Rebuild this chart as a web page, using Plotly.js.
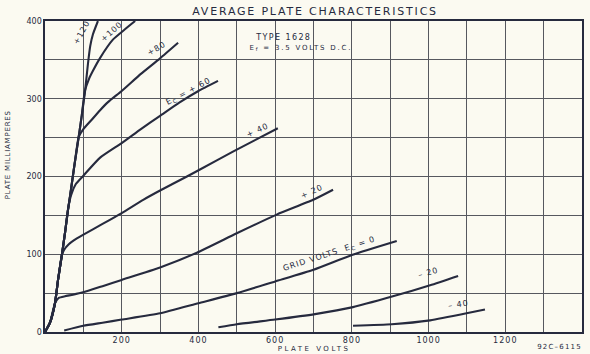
<!DOCTYPE html>
<html>
<head>
<meta charset="utf-8">
<script src="https://cdn.plot.ly/plotly-3.0.1.min.js"></script>
<style>
html,body{margin:0;padding:0;background:#fbfaf1;}
#chart{width:590px;height:354px;}
.gtitle{letter-spacing:1.8px;}
.annotation-text{letter-spacing:1px;}
.annotation[data-index="9"] .annotation-text{letter-spacing:1.4px;}
.annotation[data-index="10"] .annotation-text{letter-spacing:1.8px;}
.annotation[data-index="11"] .annotation-text{letter-spacing:2.5px;}
.annotation[data-index="12"] .annotation-text{letter-spacing:1.2px;}
.annotation[data-index="13"] .annotation-text{letter-spacing:0.8px;}
.xtick text{letter-spacing:1px;}
</style>
</head>
<body>
<div id="chart"></div>
<script>
// Plate volts / plate milliamperes, one pair of arrays per grid voltage
const ec120V = [0, 13, 26, 34, 44, 52, 60, 66, 76, 87, 96, 104, 112, 118, 125, 138];
const ec120I = [0, 12, 37, 67, 99, 127, 157, 177, 212, 248, 279, 308, 345, 368, 383, 400];

const ec100V = [0, 13, 26, 34, 44, 52, 60, 66, 76, 87, 96, 104, 115, 125, 143, 177, 210, 235];
const ec100I = [0, 12, 37, 67, 99, 127, 157, 177, 212, 248, 279, 310, 326, 336, 352, 376, 390, 400];

const ec80V = [0, 13, 26, 34, 44, 52, 60, 66, 76, 88, 100, 120, 143, 165, 200, 250, 300, 347];
const ec80I = [0, 12, 37, 67, 99, 127, 157, 177, 212, 251, 261, 272, 285, 296, 310, 332, 352, 372];

const ec60V = [0, 13, 26, 34, 44, 52, 60, 68, 80, 100, 143, 200, 250, 300, 350, 400, 451];
const ec60I = [0, 12, 37, 67, 99, 127, 158, 176, 190, 201, 224, 243, 261, 278, 295, 310, 323];

const ec40V = [0, 13, 26, 34, 44, 50, 62, 75, 99, 150, 200, 256, 300, 370, 404, 490, 607];
const ec40I = [0, 12, 37, 67, 99, 106, 113, 118, 125, 139, 153, 170, 182, 200, 209, 232, 262];

const ec20V = [0, 13, 22, 28, 36, 52, 73, 99, 150, 200, 300, 396, 500, 604, 699, 751];
const ec20I = [0, 12, 30, 39, 44, 46, 48, 51, 59, 67, 83, 102, 127, 151, 170, 183];

const ec0V = [50, 100, 150, 200, 300, 400, 500, 600, 700, 800, 917];
const ec0I = [2, 8, 12, 16, 24, 37, 50, 65, 80, 99, 117];

const ecm20V = [452, 500, 600, 704, 803, 907, 1004, 1077];
const ecm20I = [6, 10, 16, 23, 32, 46, 60, 72];

const ecm40V = [803, 904, 1004, 1099, 1147];
const ecm40I = [8, 10, 15, 24, 29];

// Axis ticks
const xTickVals = [200, 400, 600, 800, 1000, 1200];
const xTickText = ['200', '400', '600', '800', '1000', '1200'];
const yTickVals = [0, 100, 200, 300, 400];
const yTickText = ['0', '100', '200', '300', '400'];

// Curve labels
const curveLabels = ['+120', '+100', '+80', 'E<sub>C</sub> = + 60', '+ 40', '+ 20', 'GRID VOLTS  E<sub>C</sub> = 0', '\u2013 20', '\u2013 40'];
const labelV = [96, 175, 292, 373, 553, 696, 743, 1001, 1077];
const labelI = [385, 386, 364, 309, 259, 181, 100, 76, 36];
const labelAngle = [-62, -42, -30, -28, -25, -24, -18, -15, -8];

const INK = '#262a3e';
const GRID = '#56585f';
const FONT = 'DejaVu Sans, Arial, sans-serif';

const series = [
  [ec120V, ec120I], [ec100V, ec100I], [ec80V, ec80I], [ec60V, ec60I],
  [ec40V, ec40I], [ec20V, ec20I], [ec0V, ec0I], [ecm20V, ecm20I], [ecm40V, ecm40I]
];
const traces = series.map(s => ({
  x: s[0], y: s[1], type: 'scatter', mode: 'lines',
  line: {color: INK, width: 2.1, shape: 'spline', smoothing: 0.5},
  hoverinfo: 'skip', showlegend: false
}));

const annotations = curveLabels.map((t, i) => ({
  x: labelV[i], y: labelI[i], xref: 'x', yref: 'y', text: t, showarrow: false,
  textangle: labelAngle[i], font: {family: FONT, size: 8, color: INK}
}));

annotations.push(
  {x: 255, y: 37, xref: 'paper', yref: 'paper', text: 'TYPE 1628', showarrow: false, xanchor: 'left', yanchor: 'middle', font: {family: FONT, size: 8, color: INK}},
  {x: 255, y: 48, xref: 'paper', yref: 'paper', text: 'E<sub>f</sub> = 3.5 VOLTS D.C.', showarrow: false, xanchor: 'left', yanchor: 'middle', font: {family: FONT, size: 7, color: INK}},
  {x: 314, y: 349, xref: 'paper', yref: 'paper', text: 'PLATE VOLTS', showarrow: false, xanchor: 'center', yanchor: 'middle', font: {family: FONT, size: 7, color: INK}},
  {x: 559, y: 347, xref: 'paper', yref: 'paper', text: '92C\u20136115', showarrow: false, xanchor: 'center', yanchor: 'middle', font: {family: FONT, size: 7, color: INK}},
  {x: 8, y: 155, xref: 'paper', yref: 'paper', text: 'PLATE MILLIAMPERES', showarrow: false, textangle: -90, xanchor: 'center', yanchor: 'middle', font: {family: FONT, size: 7, color: INK}}
);

// convert pixel-placed paper annotations to paper fractions
const M = {l: 45, r: 8, t: 21, b: 22};
const PW = 590 - M.l - M.r, PH = 354 - M.t - M.b;
annotations.forEach(a => {
  if (a.xref === 'paper') {
    a.x = (a.x - M.l) / PW;
    a.y = 1 - (a.y - M.t) / PH;
  }
});

const axisCommon = {
  showgrid: true, gridcolor: GRID, gridwidth: 1.1,
  showline: true, linecolor: INK, linewidth: 1.6, mirror: true, zeroline: false,
  ticks: '', tickfont: {family: FONT, size: 8, color: INK}, fixedrange: true
};

const layout = {
  width: 590, height: 354,
  margin: M,
  paper_bgcolor: '#fbfaf1', plot_bgcolor: '#fbfaf1',
  title: {
    text: 'AVERAGE PLATE CHARACTERISTICS',
    font: {family: FONT, size: 11, color: INK},
    x: 0.534, xanchor: 'center', y: 1 - 11 / 354, yanchor: 'middle', xref: 'container', yref: 'container'
  },
  xaxis: Object.assign({}, axisCommon, {
    range: [0, 1400], tickmode: 'array', tickvals: xTickVals, ticktext: xTickText,
    minor: {tick0: 0, dtick: 100, showgrid: true, gridcolor: GRID, gridwidth: 1.1, ticks: ''}
  }),
  yaxis: Object.assign({}, axisCommon, {
    range: [0, 400], tickmode: 'array', tickvals: yTickVals, ticktext: yTickText,
    minor: {tick0: 0, dtick: 50, showgrid: true, gridcolor: GRID, gridwidth: 1.1, ticks: ''}
  }),
  annotations: annotations
};

Plotly.newPlot('chart', traces, layout, {displayModeBar: false, staticPlot: true});
</script>
</body>
</html>
